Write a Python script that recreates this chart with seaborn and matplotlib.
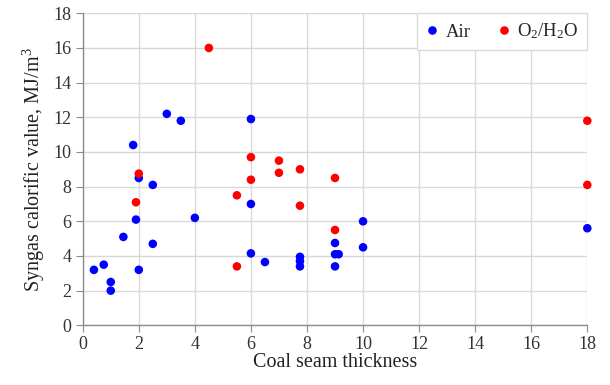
import matplotlib
matplotlib.use("Agg")
import matplotlib.pyplot as plt
import seaborn as sns
import pandas as pd

air_x = [0.4, 0.75, 1, 1, 1.45, 1.8, 1.9, 2, 2, 2.5, 2.5, 3, 3.5, 4, 6, 6, 6, 6.5,
         7.75, 7.75, 7.75, 9, 9, 9.13, 9, 10, 10, 18]
air_y = [3.2, 3.5, 2.5, 2.0, 5.1, 10.4, 6.1, 8.5, 3.2, 8.1, 4.7, 12.2, 11.8, 6.2, 11.9, 7.0, 4.15, 3.65,
         3.95, 3.7, 3.4, 4.75, 4.1, 4.1, 3.4, 6.0, 4.5, 5.6]
oxy_x = [1.9, 2, 4.5, 5.5, 5.5, 6, 6, 7, 7, 7.75, 7.75, 9, 9, 18, 18]
oxy_y = [7.1, 8.75, 16.0, 7.5, 3.4, 9.7, 8.4, 9.5, 8.8, 9.0, 6.9, 8.5, 5.5, 11.8, 8.1]
labels = ["Air", r"O$_2$/H$_2$O"]
x_ticks = list(range(0, 19, 2))
y_ticks = list(range(0, 19, 2))

df = pd.DataFrame({
    "x": air_x + oxy_x,
    "y": air_y + oxy_y,
    "series": [labels[0]] * len(air_x) + [labels[1]] * len(oxy_x),
})

sns.set_style("white")
plt.rcParams["font.family"] = ["Liberation Serif", "DejaVu Serif"]
plt.rcParams["mathtext.fontset"] = "custom"
plt.rcParams["mathtext.rm"] = "Liberation Serif"
plt.rcParams["mathtext.it"] = "Liberation Serif:italic"

fig = plt.figure(figsize=(6.1, 3.85), dpi=100)
ax = fig.add_axes([0.1356, 0.155, 0.8272, 0.8105])

sns.scatterplot(data=df, x="x", y="y", hue="series", palette=["#0000FF", "#FF0000"],
                s=38, edgecolor="none", ax=ax, zorder=3, clip_on=False)

ax.set_xlim(0, 18)
ax.set_ylim(0, 18)
ax.set_xticks(x_ticks)
ax.set_yticks(y_ticks)
ax.set_xticklabels([str(t) for t in x_ticks], fontfamily="Liberation Serif")
ax.set_yticklabels([str(t) for t in y_ticks], fontfamily="Liberation Serif")
ax.grid(True, color="#d9d9d9", linewidth=1)
ax.set_axisbelow(True)
for s in ["top", "right"]:
    ax.spines[s].set_visible(False)
for s in ["left", "bottom"]:
    ax.spines[s].set_color("#8c8c8c")
    ax.spines[s].set_linewidth(1)
ax.tick_params(axis="both", direction="out", length=5, color="#8c8c8c", labelsize=13,
               labelcolor="#333333", left=True, bottom=True, pad=3)
ax.set_xlabel("Coal seam thickness", fontsize=14.5, color="#222222", labelpad=0)
ax.set_ylabel(r"Syngas calorific value, MJ/m$^3$", fontsize=14.5, color="#222222", labelpad=5)

leg = ax.legend(loc="upper right", bbox_to_anchor=(1, 1), borderaxespad=0, ncol=2,
                frameon=True, fancybox=False, framealpha=1, edgecolor="#d9d9d9",
                fontsize=13.5, handlelength=0.8, handletextpad=0.3, columnspacing=1.4,
                borderpad=0.45)
leg.get_frame().set_linewidth(1)

fig.savefig("out.png", dpi=100)
